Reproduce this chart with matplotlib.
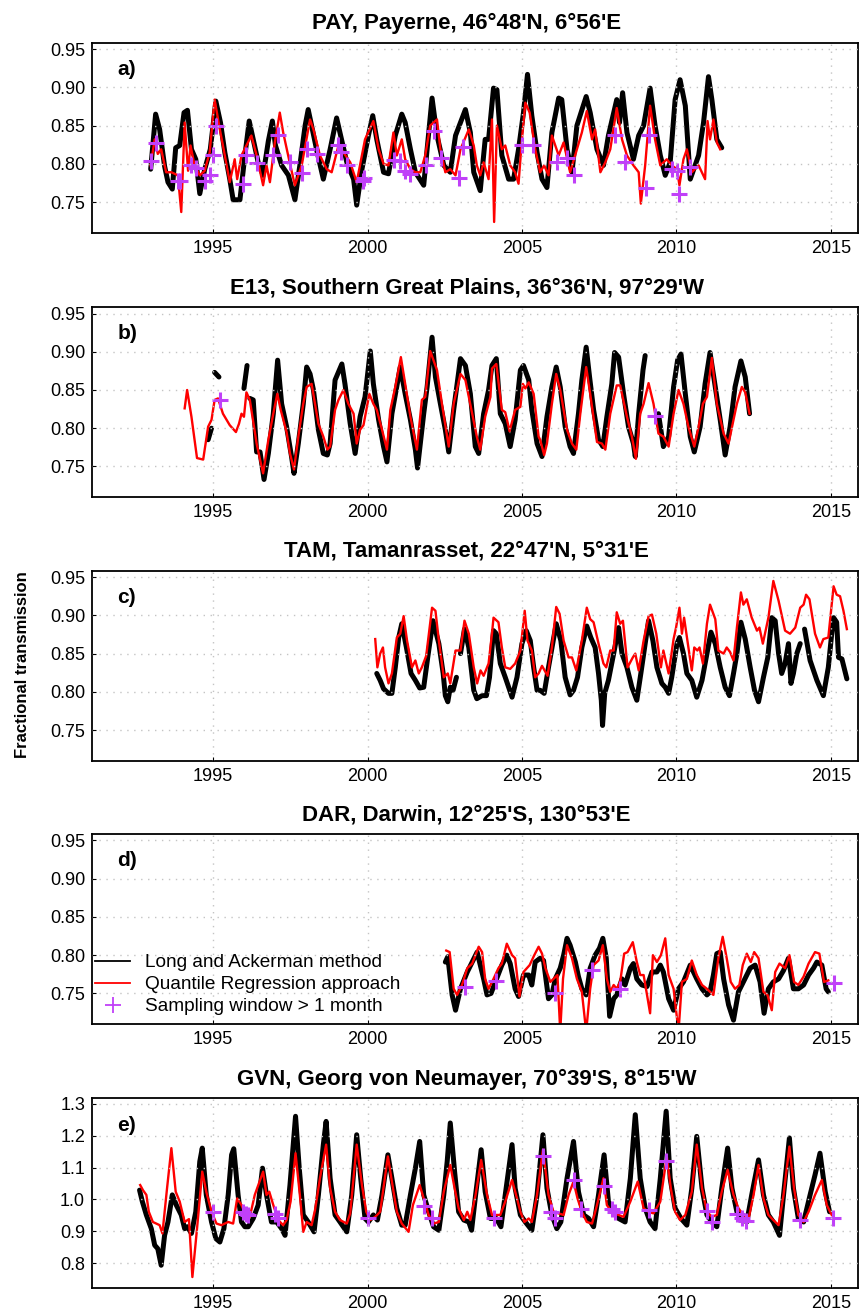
import numpy as np
import matplotlib
matplotlib.use('Agg')
from matplotlib import pyplot as plt
from matplotlib.lines import Line2D

nan = np.nan

# ---- a) PAY, Payerne ----
pay_lam_t = [1992.98, 1993.14, 1993.27, 1993.43, 1993.54, 1993.68, 1993.79, 1993.92, 1994.06, 1994.17,
             1994.30, 1994.44, 1994.57, 1994.73, 1994.91, 1995.09, 1995.24, 1995.38, 1995.54, 1995.65,
             1995.87, 1996.03, 1996.17, 1996.30, 1996.46, 1996.62, 1996.79, 1996.92, 1997.02, 1997.22,
             1997.44, 1997.65, 1997.81, 1997.98, 1998.08, 1998.19, 1998.35, 1998.57, 1998.79, 1999.00,
             1999.13, 1999.33, 1999.55, 1999.65, 1999.82, 2000.03, 2000.17, 2000.30, 2000.52, 2000.68,
             2000.90, 2001.11, 2001.22, 2001.39, 2001.55, 2001.82, 2001.93, 2002.09, 2002.25, 2002.47,
             2002.68, 2002.85, 2003.17, 2003.33, 2003.44, 2003.65, 2003.81, 2003.92, 2004.08, 2004.19,
             2004.35, 2004.57, 2004.73, 2004.89, 2005.05, 2005.18, 2005.32, 2005.49, 2005.65, 2005.81,
             2005.97, 2006.19, 2006.29, 2006.46, 2006.62, 2006.78, 2007.08, 2007.21, 2007.43, 2007.64,
             2007.80, 2008.07, 2008.16, 2008.26, 2008.40, 2008.61, 2008.78, 2008.94, 2009.15, 2009.31,
             2009.48, 2009.64, 2009.80, 2009.96, 2010.12, 2010.29, 2010.45, 2010.72, 2010.88, 2011.04,
             2011.15, 2011.31, 2011.47]
pay_lam_v = [0.793, 0.865, 0.845, 0.797, 0.776, 0.767, 0.821, 0.824, 0.867, 0.870,
             0.819, 0.806, 0.761, 0.793, 0.819, 0.882, 0.854, 0.815, 0.780, 0.753,
             0.753, 0.811, 0.856, 0.832, 0.802, 0.785, 0.830, 0.856, 0.824, 0.798,
             0.785, 0.753, 0.798, 0.850, 0.871, 0.850, 0.819, 0.780, 0.819, 0.860,
             0.837, 0.802, 0.780, 0.746, 0.793, 0.837, 0.863, 0.832, 0.789, 0.787,
             0.837, 0.865, 0.854, 0.819, 0.789, 0.772, 0.819, 0.886, 0.837, 0.798,
             0.789, 0.837, 0.871, 0.841, 0.789, 0.765, 0.832, 0.832, 0.899, 0.897,
             0.811, 0.780, 0.780, 0.819, 0.867, 0.917, 0.863, 0.815, 0.780, 0.769,
             0.841, 0.886, 0.884, 0.819, 0.789, 0.850, 0.888, 0.867, 0.819, 0.798,
             0.837, 0.884, 0.854, 0.893, 0.841, 0.806, 0.837, 0.850, 0.899, 0.850,
             0.811, 0.785, 0.802, 0.884, 0.910, 0.876, 0.780, 0.811, 0.854, 0.914,
             0.884, 0.832, 0.821]
pay_qr_t = [1992.98, 1993.11, 1993.21, 1993.32, 1993.48, 1993.65, 1993.86, 1993.97, 1994.08, 1994.19,
            1994.27, 1994.40, 1994.57, 1994.73, 1994.89, 1995.05, 1995.22, 1995.38, 1995.54, 1995.70,
            1995.78, 1995.92, 1996.08, 1996.24, 1996.41, 1996.62, 1996.73, 1996.84, 1997.00, 1997.16,
            1997.27, 1997.49, 1997.65, 1997.87, 1998.14, 1998.25, 1998.46, 1998.68, 1998.84, 1999.06,
            1999.22, 1999.44, 1999.65, 1999.92, 2000.19, 2000.36, 2000.52, 2000.68, 2000.84, 2000.95,
            2001.11, 2001.22, 2001.39, 2001.55, 2001.71, 2001.87, 2002.03, 2002.25, 2002.36, 2002.52,
            2002.68, 2002.85, 2003.01, 2003.28, 2003.44, 2003.54, 2003.65, 2003.76, 2003.92, 2004.03,
            2004.10, 2004.19, 2004.35, 2004.46, 2004.62, 2004.78, 2004.89, 2005.00, 2005.11, 2005.25,
            2005.43, 2005.59, 2005.72, 2005.86, 2005.97, 2006.19, 2006.35, 2006.56, 2006.78, 2006.94,
            2007.10, 2007.27, 2007.37, 2007.54, 2007.70, 2007.86, 2008.07, 2008.24, 2008.40, 2008.61,
            2008.78, 2008.85, 2008.99, 2009.15, 2009.31, 2009.48, 2009.69, 2009.85, 2010.02, 2010.10,
            2010.23, 2010.34, 2010.50, 2010.72, 2010.93, 2011.01, 2011.09, 2011.20, 2011.31, 2011.42]
pay_qr_v = [0.798, 0.832, 0.813, 0.819, 0.789, 0.789, 0.785, 0.737, 0.854, 0.791,
            0.824, 0.798, 0.785, 0.791, 0.815, 0.884, 0.845, 0.811, 0.776, 0.806,
            0.780, 0.811, 0.824, 0.837, 0.811, 0.772, 0.798, 0.776, 0.828, 0.867,
            0.841, 0.800, 0.772, 0.798, 0.858, 0.845, 0.811, 0.793, 0.789, 0.824,
            0.815, 0.802, 0.776, 0.832, 0.856, 0.819, 0.800, 0.798, 0.841, 0.811,
            0.832, 0.806, 0.793, 0.789, 0.789, 0.811, 0.850, 0.858, 0.819, 0.789,
            0.793, 0.785, 0.819, 0.845, 0.824, 0.798, 0.785, 0.802, 0.780, 0.858,
            0.724, 0.850, 0.819, 0.824, 0.798, 0.789, 0.774, 0.832, 0.880, 0.867,
            0.819, 0.789, 0.798, 0.785, 0.837, 0.811, 0.828, 0.789, 0.819, 0.841,
            0.869, 0.832, 0.845, 0.789, 0.802, 0.819, 0.873, 0.832, 0.811, 0.798,
            0.789, 0.748, 0.798, 0.876, 0.832, 0.798, 0.806, 0.798, 0.793, 0.772,
            0.806, 0.819, 0.789, 0.798, 0.780, 0.856, 0.832, 0.858, 0.828, 0.819]
pay_win_t = [1993.00, 1993.16, 1993.86, 1993.94, 1994.30, 1994.44, 1994.73, 1994.91, 1995.00, 1995.11,
             1995.97, 1996.08, 1996.41, 1996.95, 1997.11, 1997.49, 1997.87, 1998.03, 1998.35, 1999.06,
             1999.13, 1999.33, 1999.85, 1999.89, 2000.87, 2001.06, 2001.22, 2001.36, 2001.90, 2002.16,
             2002.39, 2002.95, 2003.10, 2005.00, 2005.36, 2006.15, 2006.46, 2006.67, 2008.02, 2008.34,
             2009.01, 2009.10, 2009.85, 2010.02, 2010.07, 2010.43]
pay_win_v = [0.804, 0.827, 0.778, 0.778, 0.798, 0.795, 0.778, 0.785, 0.811, 0.850,
             0.773, 0.811, 0.801, 0.812, 0.838, 0.802, 0.788, 0.819, 0.813, 0.825,
             0.815, 0.798, 0.777, 0.781, 0.805, 0.804, 0.791, 0.787, 0.798, 0.843,
             0.808, 0.781, 0.822, 0.824, 0.824, 0.802, 0.808, 0.785, 0.838, 0.803,
             0.769, 0.838, 0.793, 0.791, 0.761, 0.796]

# ---- b) E13, Southern Great Plains ----
e13_lam_t = [1994.84, 1994.95, nan, 1995.05, 1995.19, nan, 1996.00, 1996.10, nan, 1996.19,
             1996.30, 1996.41, 1996.52, 1996.65, 1996.79, 1996.95, 1997.09, 1997.22, 1997.38, 1997.54,
             1997.62, 1997.76, 1997.92, 1998.03, 1998.14, 1998.25, 1998.41, 1998.57, 1998.70, 1998.79,
             1998.95, 1999.17, 1999.27, 1999.44, 1999.60, 1999.76, 1999.92, 2000.09, 2000.19, 2000.36,
             2000.52, 2000.63, 2000.79, 2001.06, 2001.22, 2001.39, 2001.55, 2001.62, 2001.82, 2001.93,
             2002.09, 2002.20, 2002.36, 2002.52, 2002.63, 2002.79, 2003.01, 2003.17, 2003.33, 2003.49,
             2003.60, 2003.76, 2003.92, 2004.03, 2004.17, 2004.30, 2004.46, 2004.62, 2004.78, 2004.95,
             2005.05, 2005.22, 2005.32, 2005.49, 2005.65, 2005.81, 2005.97, 2006.11, 2006.24, 2006.40,
             2006.56, 2006.67, 2006.83, 2006.94, 2007.08, 2007.19, 2007.32, 2007.48, 2007.62, 2007.75,
             2007.91, 2008.00, 2008.13, 2008.29, 2008.45, 2008.61, 2008.67, 2008.78, 2008.92, 2008.99,
             nan, 2009.42, 2009.58, 2009.75, 2009.91, 2010.04, 2010.15, 2010.29, 2010.45, 2010.58,
             2010.77, 2010.93, 2011.09, 2011.26, 2011.42, 2011.58, 2011.74, 2011.90, 2012.09, 2012.23,
             2012.37]
e13_lam_v = [0.785, 0.800, nan, 0.873, 0.867, nan, 0.852, 0.882, nan, 0.839,
             0.837, 0.769, 0.769, 0.733, 0.767, 0.819, 0.889, 0.832, 0.802, 0.763,
             0.741, 0.780, 0.832, 0.880, 0.871, 0.850, 0.798, 0.767, 0.765, 0.780,
             0.863, 0.884, 0.858, 0.806, 0.767, 0.815, 0.841, 0.901, 0.858, 0.811,
             0.776, 0.756, 0.819, 0.880, 0.845, 0.811, 0.772, 0.748, 0.819, 0.854,
             0.919, 0.867, 0.832, 0.798, 0.769, 0.824, 0.891, 0.882, 0.845, 0.776,
             0.767, 0.819, 0.850, 0.882, 0.891, 0.819, 0.806, 0.776, 0.811, 0.876,
             0.882, 0.863, 0.824, 0.780, 0.763, 0.815, 0.854, 0.880, 0.854, 0.802,
             0.776, 0.767, 0.819, 0.863, 0.906, 0.867, 0.824, 0.785, 0.776, 0.815,
             0.858, 0.899, 0.893, 0.845, 0.802, 0.780, 0.763, 0.819, 0.876, 0.895,
             nan, 0.819, 0.776, 0.789, 0.854, 0.889, 0.897, 0.845, 0.789, 0.769,
             0.802, 0.858, 0.899, 0.854, 0.811, 0.765, 0.802, 0.854, 0.888, 0.867,
             0.819]
e13_qr_t = [1994.08, 1994.16, 1994.30, 1994.48, 1994.68, 1994.84, 1994.95, 1995.05, 1995.16, 1995.32,
            1995.54, 1995.74, 1995.84, 1995.92, 1996.00, 1996.08, 1996.19, 1996.41, 1996.52, 1996.62,
            1996.79, 1996.95, 1997.08, 1997.19, 1997.38, 1997.49, 1997.62, 1997.76, 1997.92, 1998.03,
            1998.19, 1998.41, 1998.57, 1998.70, 1998.79, 1998.95, 1999.06, 1999.22, 1999.38, 1999.55,
            1999.65, 1999.76, 1999.87, 2000.06, 2000.19, 2000.30, 2000.47, 2000.63, 2000.74, 2000.90,
            2001.08, 2001.22, 2001.39, 2001.60, 2001.76, 2001.87, 2002.03, 2002.25, 2002.41, 2002.63,
            2002.79, 2003.01, 2003.17, 2003.39, 2003.54, 2003.65, 2003.81, 2003.98, 2004.03, 2004.17,
            2004.35, 2004.46, 2004.60, 2004.78, 2004.95, 2005.03, 2005.11, 2005.22, 2005.38, 2005.54,
            2005.59, 2005.72, 2005.81, 2005.97, 2006.11, 2006.24, 2006.46, 2006.62, 2006.76, 2006.89,
            2007.08, 2007.21, 2007.43, 2007.59, 2007.70, 2007.86, 2008.07, 2008.18, 2008.40, 2008.56,
            2008.69, 2008.83, 2008.94, 2009.10, 2009.26, 2009.42, 2009.58, 2009.75, 2009.91, 2010.07,
            2010.23, 2010.39, 2010.58, 2010.72, 2010.86, 2010.99, 2011.15, 2011.31, 2011.53, 2011.69,
            2011.85, 2011.96, 2012.12, 2012.23, 2012.37]
e13_qr_v = [0.826, 0.850, 0.815, 0.761, 0.759, 0.802, 0.811, 0.837, 0.839, 0.819,
            0.804, 0.795, 0.806, 0.819, 0.815, 0.847, 0.837, 0.780, 0.759, 0.741,
            0.785, 0.819, 0.845, 0.824, 0.795, 0.767, 0.746, 0.789, 0.832, 0.854,
            0.858, 0.806, 0.789, 0.772, 0.776, 0.824, 0.837, 0.850, 0.832, 0.819,
            0.780, 0.798, 0.804, 0.845, 0.832, 0.824, 0.798, 0.772, 0.824, 0.854,
            0.893, 0.858, 0.815, 0.772, 0.837, 0.841, 0.901, 0.876, 0.832, 0.776,
            0.832, 0.871, 0.863, 0.819, 0.789, 0.772, 0.815, 0.841, 0.878, 0.884,
            0.824, 0.821, 0.796, 0.824, 0.828, 0.858, 0.852, 0.860, 0.845, 0.789,
            0.785, 0.765, 0.780, 0.832, 0.871, 0.850, 0.798, 0.780, 0.772, 0.819,
            0.880, 0.845, 0.782, 0.780, 0.772, 0.819, 0.856, 0.856, 0.815, 0.789,
            0.760, 0.819, 0.832, 0.859, 0.832, 0.793, 0.789, 0.776, 0.819, 0.850,
            0.832, 0.802, 0.776, 0.802, 0.832, 0.841, 0.892, 0.832, 0.793, 0.780,
            0.811, 0.832, 0.854, 0.847, 0.819]
e13_win_t = [1995.22, 2009.31]
e13_win_v = [0.837, 0.816]

# ---- c) TAM, Tamanrasset ----
tam_lam_t = [2000.30, 2000.41, 2000.52, 2000.68, 2000.79, 2000.90, 2001.01, 2001.11, 2001.26, 2001.41,
             2001.55, 2001.69, 2001.82, 2001.95, 2002.12, 2002.31, 2002.45, 2002.52, 2002.60, 2002.68,
             2002.77, 2002.88, nan, 2003.01, 2003.14, 2003.28, 2003.44, 2003.54, 2003.71, 2003.85,
             2003.95, 2004.08, 2004.17, 2004.30, 2004.46, 2004.68, 2004.84, 2005.00, 2005.14, 2005.27,
             2005.38, 2005.49, 2005.59, 2005.72, 2005.86, 2006.11, 2006.26, 2006.40, 2006.56, 2006.67,
             2006.80, 2006.94, 2007.10, 2007.23, 2007.37, 2007.48, 2007.57, 2007.61, 2007.68, 2007.80,
             2007.97, 2008.13, 2008.24, 2008.40, 2008.56, 2008.72, 2008.85, 2008.99, 2009.10, 2009.24,
             2009.37, 2009.53, 2009.64, 2009.75, 2009.85, 2010.02, 2010.10, 2010.23, 2010.34, 2010.50,
             2010.66, 2010.83, 2010.99, 2011.12, 2011.26, 2011.42, 2011.58, 2011.72, 2011.85, 2011.96,
             2012.09, 2012.23, 2012.39, 2012.53, 2012.66, 2012.82, 2012.96, 2013.09, 2013.20, 2013.31,
             2013.41, 2013.52, 2013.63, 2013.71, 2013.79, 2013.90, 2014.01, nan, 2014.15, 2014.33,
             2014.55, 2014.76, 2014.92, 2015.03, 2015.09, 2015.19, 2015.25, 2015.36, 2015.52]
tam_lam_v = [0.824, 0.815, 0.804, 0.798, 0.798, 0.832, 0.871, 0.889, 0.858, 0.824,
             0.815, 0.805, 0.806, 0.845, 0.893, 0.863, 0.824, 0.795, 0.787, 0.806,
             0.802, 0.819, nan, 0.850, 0.882, 0.858, 0.802, 0.791, 0.795, 0.795,
             0.819, 0.880, 0.876, 0.837, 0.819, 0.793, 0.819, 0.863, 0.880, 0.867,
             0.832, 0.802, 0.802, 0.798, 0.832, 0.889, 0.867, 0.819, 0.796, 0.802,
             0.819, 0.858, 0.886, 0.871, 0.858, 0.824, 0.789, 0.756, 0.798, 0.815,
             0.850, 0.884, 0.850, 0.832, 0.806, 0.789, 0.824, 0.863, 0.893, 0.867,
             0.832, 0.811, 0.806, 0.798, 0.819, 0.863, 0.871, 0.850, 0.824, 0.815,
             0.793, 0.815, 0.850, 0.878, 0.863, 0.832, 0.806, 0.795, 0.824, 0.850,
             0.891, 0.869, 0.832, 0.802, 0.787, 0.819, 0.845, 0.897, 0.893, 0.850,
             0.824, 0.837, 0.863, 0.811, 0.824, 0.850, 0.863, nan, 0.882, 0.841,
             0.815, 0.795, 0.832, 0.876, 0.897, 0.891, 0.845, 0.843, 0.817]
tam_qr_t = [2000.25, 2000.32, 2000.41, 2000.50, 2000.57, 2000.68, 2000.79, 2000.95, 2001.06, 2001.17,
            2001.28, 2001.44, 2001.55, 2001.66, 2001.76, 2001.90, 2002.09, 2002.20, 2002.31, 2002.47,
            2002.60, 2002.68, 2002.85, 2003.01, 2003.14, 2003.28, 2003.44, 2003.55, 2003.66, 2003.76,
            2003.92, 2004.03, 2004.08, 2004.24, 2004.35, 2004.46, 2004.62, 2004.78, 2004.95, 2005.09,
            2005.18, 2005.32, 2005.43, 2005.54, 2005.65, 2005.83, 2005.97, 2006.11, 2006.22, 2006.35,
            2006.51, 2006.62, 2006.76, 2006.94, 2007.10, 2007.21, 2007.32, 2007.48, 2007.64, 2007.73,
            2007.86, 2007.97, 2008.07, 2008.18, 2008.27, 2008.42, 2008.59, 2008.67, 2008.78, 2008.94,
            2009.10, 2009.21, 2009.35, 2009.50, 2009.58, 2009.75, 2009.91, 2009.99, 2010.10, 2010.18,
            2010.25, 2010.39, 2010.50, 2010.58, 2010.68, 2010.75, 2010.86, 2010.99, 2011.09, 2011.26,
            2011.36, 2011.53, 2011.63, 2011.74, 2011.85, 2011.96, 2012.09, 2012.17, 2012.28, 2012.44,
            2012.61, 2012.69, 2012.80, 2012.98, 2013.14, 2013.31, 2013.52, 2013.68, 2013.85, 2014.01,
            2014.12, 2014.20, 2014.31, 2014.49, 2014.65, 2014.76, 2014.92, 2015.09, 2015.19, 2015.30,
            2015.41, 2015.52]
tam_qr_v = [0.869, 0.832, 0.850, 0.858, 0.832, 0.811, 0.824, 0.871, 0.876, 0.899,
            0.867, 0.832, 0.841, 0.824, 0.832, 0.847, 0.910, 0.906, 0.867, 0.819,
            0.824, 0.811, 0.854, 0.854, 0.893, 0.876, 0.832, 0.811, 0.828, 0.821,
            0.837, 0.876, 0.897, 0.891, 0.858, 0.832, 0.830, 0.837, 0.854, 0.906,
            0.867, 0.854, 0.819, 0.824, 0.834, 0.821, 0.858, 0.911, 0.902, 0.867,
            0.845, 0.845, 0.828, 0.867, 0.910, 0.895, 0.891, 0.863, 0.837, 0.832,
            0.854, 0.854, 0.904, 0.889, 0.893, 0.832, 0.845, 0.850, 0.828, 0.867,
            0.899, 0.901, 0.876, 0.832, 0.854, 0.824, 0.869, 0.884, 0.910, 0.876,
            0.897, 0.858, 0.828, 0.858, 0.854, 0.858, 0.837, 0.889, 0.914, 0.895,
            0.854, 0.850, 0.858, 0.852, 0.841, 0.884, 0.930, 0.914, 0.921, 0.897,
            0.880, 0.884, 0.863, 0.897, 0.945, 0.919, 0.880, 0.876, 0.884, 0.910,
            0.914, 0.927, 0.921, 0.876, 0.858, 0.869, 0.871, 0.938, 0.927, 0.925,
            0.906, 0.882]
tam_win_t = []
tam_win_v = []

# ---- d) DAR, Darwin ----
dar_lam_t = [2002.52, 2002.60, 2002.74, 2002.85, 2003.01, 2003.23, 2003.39, 2003.55, 2003.76, 2003.87,
             2004.00, 2004.14, 2004.35, 2004.51, 2004.62, 2004.78, 2004.89, 2005.05, 2005.22, 2005.32,
             2005.43, 2005.59, 2005.70, 2005.86, 2005.97, 2006.08, 2006.24, 2006.35, 2006.46, 2006.56,
             2006.73, 2006.83, 2006.94, 2007.08, 2007.21, 2007.37, 2007.51, 2007.62, 2007.73, 2007.84,
             2007.97, 2008.07, 2008.24, 2008.34, 2008.51, 2008.61, 2008.72, 2008.88, 2009.05, 2009.21,
             2009.37, 2009.48, 2009.58, 2009.75, 2009.91, 2010.07, 2010.23, 2010.45, 2010.66, 2010.83,
             2010.99, 2011.09, 2011.20, 2011.31, 2011.42, 2011.53, 2011.69, 2011.85, 2012.01, 2012.17,
             2012.39, 2012.55, 2012.71, 2012.84, 2012.98, 2013.14, 2013.31, 2013.47, 2013.63, 2013.79,
             2013.95, 2014.12, 2014.28, 2014.44, 2014.55, 2014.71, 2014.85, 2014.92]
dar_lam_v = [0.791, 0.798, 0.748, 0.728, 0.756, 0.778, 0.791, 0.804, 0.769, 0.748,
             0.750, 0.765, 0.787, 0.800, 0.789, 0.756, 0.746, 0.774, 0.774, 0.761,
             0.791, 0.796, 0.793, 0.743, 0.748, 0.769, 0.783, 0.800, 0.822, 0.813,
             0.791, 0.772, 0.756, 0.748, 0.783, 0.800, 0.809, 0.822, 0.796, 0.720,
             0.743, 0.748, 0.769, 0.761, 0.783, 0.789, 0.769, 0.761, 0.759, 0.778,
             0.778, 0.787, 0.778, 0.743, 0.728, 0.756, 0.765, 0.787, 0.769, 0.756,
             0.748, 0.752, 0.774, 0.802, 0.804, 0.769, 0.735, 0.715, 0.752, 0.765,
             0.783, 0.787, 0.765, 0.724, 0.756, 0.765, 0.769, 0.780, 0.796, 0.756,
             0.756, 0.761, 0.774, 0.783, 0.791, 0.787, 0.756, 0.752]
dar_qr_t = [2002.55, 2002.66, 2002.79, 2002.90, 2003.06, 2003.23, 2003.39, 2003.60, 2003.71, 2003.81,
            2003.92, 2004.08, 2004.24, 2004.35, 2004.51, 2004.68, 2004.78, 2004.92, 2005.05, 2005.25,
            2005.40, 2005.54, 2005.65, 2005.76, 2005.92, 2006.15, 2006.24, 2006.33, 2006.46, 2006.62,
            2006.78, 2006.94, 2007.08, 2007.21, 2007.32, 2007.48, 2007.62, 2007.75, 2007.86, 2007.97,
            2008.07, 2008.18, 2008.31, 2008.42, 2008.59, 2008.72, 2008.83, 2008.94, 2009.05, 2009.15,
            2009.24, 2009.37, 2009.50, 2009.64, 2009.75, 2009.91, 2010.07, 2010.18, 2010.34, 2010.50,
            2010.66, 2010.83, 2010.99, 2011.09, 2011.20, 2011.36, 2011.50, 2011.63, 2011.76, 2011.90,
            2012.04, 2012.15, 2012.28, 2012.41, 2012.52, 2012.66, 2012.82, 2012.95, 2013.09, 2013.20,
            2013.34, 2013.52, 2013.66, 2013.81, 2013.95, 2014.12, 2014.28, 2014.49, 2014.63, 2014.78,
            2014.92]
dar_qr_v = [0.806, 0.804, 0.756, 0.748, 0.761, 0.783, 0.789, 0.811, 0.804, 0.769,
            0.756, 0.769, 0.783, 0.789, 0.815, 0.800, 0.796, 0.746, 0.778, 0.787,
            0.800, 0.811, 0.802, 0.783, 0.765, 0.774, 0.700, 0.769, 0.813, 0.796,
            0.769, 0.752, 0.700, 0.756, 0.787, 0.793, 0.813, 0.769, 0.752, 0.761,
            0.756, 0.765, 0.802, 0.804, 0.817, 0.791, 0.774, 0.774, 0.748, 0.724,
            0.800, 0.791, 0.800, 0.822, 0.774, 0.756, 0.700, 0.765, 0.769, 0.793,
            0.774, 0.761, 0.756, 0.752, 0.748, 0.796, 0.824, 0.796, 0.765, 0.756,
            0.761, 0.787, 0.802, 0.791, 0.804, 0.796, 0.752, 0.748, 0.728, 0.778,
            0.789, 0.783, 0.800, 0.765, 0.761, 0.772, 0.789, 0.804, 0.802, 0.765,
            0.767]
dar_win_t = [2003.17, 2004.17, 2006.08, 2007.27, 2008.18, 2015.09]
dar_win_v = [0.759, 0.766, 0.751, 0.781, 0.756, 0.764]

# ---- e) GVN, Georg von Neumayer ----
gvn_lam_t = [1992.62, 1992.71, 1992.84, 1993.00, 1993.11, 1993.21, 1993.32, 1993.43, 1993.54, 1993.68,
             1993.81, 1993.97, 1994.08, 1994.17, 1994.30, 1994.44, 1994.57, 1994.65, 1994.78, 1994.95,
             1995.09, 1995.22, 1995.35, 1995.49, 1995.60, 1995.67, 1995.81, 1995.92, 1996.03, 1996.14,
             1996.30, 1996.46, 1996.60, 1996.73, 1996.89, 1997.06, 1997.22, 1997.33, 1997.49, 1997.67,
             1997.79, 1997.92, 1998.08, 1998.27, 1998.41, 1998.57, 1998.66, 1998.79, 1998.95, 1999.11,
             1999.33, 1999.49, 1999.65, 1999.78, 1999.92, 2000.03, 2000.19, 2000.32, 2000.47, 2000.66,
             2000.79, 2000.95, 2001.11, 2001.22, 2001.39, 2001.55, 2001.69, 2001.82, 2001.98, 2002.14,
             2002.31, 2002.47, 2002.58, 2002.68, 2002.82, 2002.95, 2003.12, 2003.28, 2003.37, 2003.50,
             2003.68, 2003.81, 2003.98, 2004.17, 2004.32, 2004.46, 2004.68, 2004.78, 2004.95, 2005.11,
             2005.32, 2005.49, 2005.68, 2005.81, 2005.97, 2006.13, 2006.26, 2006.46, 2006.67, 2006.83,
             2007.00, 2007.16, 2007.32, 2007.48, 2007.66, 2007.80, 2007.97, 2008.13, 2008.34, 2008.51,
             2008.67, 2008.83, 2008.99, 2009.15, 2009.31, 2009.48, 2009.67, 2009.80, 2009.96, 2010.15,
             2010.34, 2010.50, 2010.66, 2010.83, 2010.99, 2011.15, 2011.31, 2011.47, 2011.66, 2011.80,
             2011.96, 2012.12, 2012.28, 2012.44, 2012.66, 2012.82, 2012.98, 2013.14, 2013.34, 2013.47,
             2013.66, 2013.79, 2013.95, 2014.12, 2014.33, 2014.49, 2014.65, 2014.82, 2014.96]
gvn_lam_v = [1.029, 0.993, 0.951, 0.908, 0.856, 0.845, 0.793, 0.887, 0.929, 1.014,
             0.982, 0.951, 0.908, 0.914, 0.893, 0.961, 1.119, 1.161, 1.014, 0.929,
             0.877, 0.866, 0.908, 1.014, 1.140, 1.159, 1.014, 0.929, 0.914, 0.914,
             0.940, 0.982, 1.098, 1.014, 0.929, 0.929, 0.908, 0.887, 1.045, 1.261,
             1.098, 0.951, 0.929, 0.898, 1.014, 1.172, 1.245, 1.066, 0.951, 0.929,
             0.898, 1.014, 1.203, 1.066, 0.940, 0.929, 0.951, 0.935, 1.014, 1.140,
             1.066, 0.972, 0.919, 0.919, 1.014, 1.098, 1.182, 1.014, 0.961, 0.914,
             0.903, 1.014, 1.119, 1.240, 1.087, 0.961, 0.935, 0.929, 0.903, 1.014,
             1.156, 1.024, 0.940, 0.940, 0.914, 1.014, 1.172, 1.035, 0.951, 0.929,
             0.903, 1.014, 1.203, 1.035, 0.951, 0.908, 0.929, 1.066, 1.182, 1.024,
             0.951, 0.940, 0.914, 1.014, 1.140, 0.993, 0.961, 0.940, 0.929, 1.066,
             1.266, 1.066, 0.972, 0.929, 0.908, 1.066, 1.277, 1.066, 0.972, 0.940,
             0.919, 1.035, 1.198, 1.035, 0.951, 0.929, 0.914, 1.035, 1.161, 1.035,
             0.961, 0.940, 0.929, 1.014, 1.124, 1.014, 0.951, 0.929, 0.887, 1.014,
             1.193, 1.035, 0.940, 0.929, 1.014, 1.077, 1.145, 1.024, 0.961]
gvn_qr_t = [1992.64, 1992.73, 1992.84, 1992.92, 1993.05, 1993.16, 1993.27, 1993.36, 1993.51, 1993.65,
            1993.79, 1993.92, 1994.08, 1994.22, 1994.33, 1994.48, 1994.65, 1994.78, 1994.95, 1995.11,
            1995.27, 1995.49, 1995.65, 1995.78, 1995.92, 1996.06, 1996.19, 1996.35, 1996.62, 1996.73,
            1996.82, 1996.95, 1997.11, 1997.27, 1997.38, 1997.51, 1997.67, 1997.81, 1997.92, 1998.03,
            1998.19, 1998.30, 1998.46, 1998.66, 1998.79, 1998.95, 1999.11, 1999.33, 1999.44, 1999.65,
            1999.82, 1999.96, 2000.09, 2000.25, 2000.41, 2000.66, 2000.79, 2000.95, 2001.11, 2001.33,
            2001.47, 2001.69, 2001.82, 2001.98, 2002.14, 2002.31, 2002.47, 2002.68, 2002.82, 2002.95,
            2003.12, 2003.23, 2003.33, 2003.50, 2003.68, 2003.87, 2004.03, 2004.30, 2004.46, 2004.68,
            2004.84, 2004.95, 2005.08, 2005.22, 2005.32, 2005.49, 2005.68, 2005.86, 2006.02, 2006.19,
            2006.35, 2006.51, 2006.67, 2006.80, 2006.94, 2007.10, 2007.27, 2007.43, 2007.64, 2007.75,
            2007.91, 2008.13, 2008.29, 2008.51, 2008.75, 2008.94, 2009.10, 2009.26, 2009.48, 2009.69,
            2009.82, 2009.96, 2010.12, 2010.29, 2010.50, 2010.66, 2010.83, 2010.99, 2011.15, 2011.31,
            2011.47, 2011.66, 2011.85, 2012.01, 2012.17, 2012.34, 2012.50, 2012.66, 2012.82, 2012.98,
            2013.14, 2013.31, 2013.47, 2013.66, 2013.81, 2013.95, 2014.12, 2014.28, 2014.49, 2014.71,
            2014.87, 2015.03]
gvn_qr_v = [1.045, 1.029, 1.014, 0.961, 0.929, 0.924, 0.919, 0.893, 1.035, 1.161,
            1.024, 0.993, 0.929, 0.938, 0.756, 0.908, 1.087, 1.024, 0.961, 0.924,
            0.919, 0.929, 0.924, 1.003, 0.982, 0.951, 0.945, 1.014, 1.087, 1.014,
            1.024, 0.982, 0.935, 0.919, 0.935, 0.993, 1.145, 1.014, 0.898, 0.929,
            0.919, 0.966, 1.066, 1.172, 1.035, 0.961, 0.935, 0.924, 0.956, 1.172,
            1.045, 0.961, 0.935, 0.945, 0.961, 1.135, 1.056, 0.961, 0.924, 0.898,
            0.982, 1.045, 1.003, 0.951, 0.924, 0.929, 1.024, 1.108, 1.035, 0.972,
            0.935, 0.961, 0.935, 1.014, 1.124, 1.014, 0.951, 0.951, 0.993, 1.061,
            1.003, 0.961, 0.929, 0.940, 0.929, 1.014, 1.156, 1.014, 0.961, 0.956,
            0.951, 1.014, 1.056, 1.003, 0.961, 0.929, 0.924, 0.982, 1.066, 0.982,
            0.961, 0.951, 0.945, 0.993, 1.056, 0.972, 0.961, 0.956, 0.993, 1.135,
            1.035, 0.961, 0.935, 0.951, 1.024, 1.172, 1.035, 0.961, 0.945, 0.951,
            1.024, 1.093, 1.014, 0.972, 0.951, 0.940, 1.014, 1.108, 1.003, 0.951,
            0.935, 0.919, 1.014, 1.166, 1.035, 0.951, 0.929, 0.961, 1.014, 1.061,
            0.982, 0.951]
gvn_win_t = [1995.00, 1995.97, 1996.06, 1996.14, 1997.00, 1997.11, 2000.00, 2001.82, 2002.09, 2004.08,
             2005.68, 2005.94, 2006.08, 2006.67, 2006.91, 2007.66, 2007.91, 2008.02, 2009.10, 2009.67,
             2010.99, 2011.17, 2011.96, 2012.12, 2012.26, 2013.99, 2015.06]
gvn_win_v = [0.961, 0.959, 0.953, 0.951, 0.953, 0.942, 0.940, 0.980, 0.942, 0.940,
             1.137, 0.959, 0.942, 1.061, 0.969, 1.043, 0.971, 0.961, 0.968, 1.119,
             0.963, 0.929, 0.954, 0.940, 0.932, 0.935, 0.942]

titles = ["PAY, Payerne, 46°48'N, 6°56'E",
          "E13, Southern Great Plains, 36°36'N, 97°29'W",
          "TAM, Tamanrasset, 22°47'N, 5°31'E",
          "DAR, Darwin, 12°25'S, 130°53'E",
          "GVN, Georg von Neumayer, 70°39'S, 8°15'W"]
letters = ['a)', 'b)', 'c)', 'd)', 'e)']
year_ticks = [1995, 2000, 2005, 2010, 2015]
trans_ticks = [0.75, 0.80, 0.85, 0.90, 0.95]
gvn_ticks = [0.8, 0.9, 1.0, 1.1, 1.2, 1.3]

series = [
    (pay_lam_t, pay_lam_v, pay_qr_t, pay_qr_v, pay_win_t, pay_win_v),
    (e13_lam_t, e13_lam_v, e13_qr_t, e13_qr_v, e13_win_t, e13_win_v),
    (tam_lam_t, tam_lam_v, tam_qr_t, tam_qr_v, tam_win_t, tam_win_v),
    (dar_lam_t, dar_lam_v, dar_qr_t, dar_qr_v, dar_win_t, dar_win_v),
    (gvn_lam_t, gvn_lam_v, gvn_qr_t, gvn_qr_v, gvn_win_t, gvn_win_v),
]

plt.rcParams['font.family'] = ['Liberation Sans', 'DejaVu Sans']
purple = '#c040f8'

fig = plt.figure(figsize=(8.59, 13.16), dpi=100)
bottoms = [0.8232, 0.6223, 0.4220, 0.2219, 0.0209]

for i, (lt, lv, qt, qv, wt, wv) in enumerate(series):
    ax = fig.add_axes([0.1071, bottoms[i], 0.8917, 0.1444])
    ax.plot(lt, lv, color='black', lw=3.6, solid_joinstyle='round', solid_capstyle='round')
    ax.plot(qt, qv, color='red', lw=1.7)
    if len(wt):
        ax.plot(wt, wv, ls='none', marker='+', color=purple, ms=12, mew=2.2)

    ax.set_xlim(1991.08, 2015.88)
    ax.set_xticks(year_ticks)
    if i < 4:
        ax.set_ylim(0.71, 0.9585)
        ax.set_yticks(trans_ticks)
        ax.set_yticklabels(['%.2f' % v for v in trans_ticks])
    else:
        ax.set_ylim(0.72, 1.317)
        ax.set_yticks(gvn_ticks)
        ax.set_yticklabels(['%.1f' % v for v in gvn_ticks])

    ax.grid(True, color='#c4c4c4', linestyle=(0, (1, 4)), lw=1.0)
    ax.set_axisbelow(False)
    ax.tick_params(direction='in', length=3, width=0.8, labelsize=13, pad=5)
    for s in ax.spines.values():
        s.set_linewidth(1.3)

    t = ax.set_title(titles[i], fontweight='bold', fontsize=16, pad=10)
    t.set_x(0.489)
    ax.text(0.033, 0.86, letters[i], transform=ax.transAxes, fontweight='bold',
            fontsize=15, va='center', ha='left')

    if i == 3:
        handles = [Line2D([], [], color='black', lw=1.3),
                   Line2D([], [], color='red', lw=1.3),
                   Line2D([], [], ls='none', marker='+', color=purple, ms=11, mew=1.3)]
        ax.legend(handles, ['Long and Ackerman method', 'Quantile Regression approach',
                            'Sampling window > 1 month'],
                  loc='lower left', bbox_to_anchor=(0.004, 0.045), frameon=False,
                  fontsize=13.7, handlelength=1.85, handletextpad=0.8,
                  labelspacing=0.25, borderpad=0, borderaxespad=0)

fig.text(0.026, 0.4947, 'Fractional transmission', rotation=90, fontweight='bold',
         fontsize=12, ha='center', va='center')

fig.savefig('out.png', dpi=100)
